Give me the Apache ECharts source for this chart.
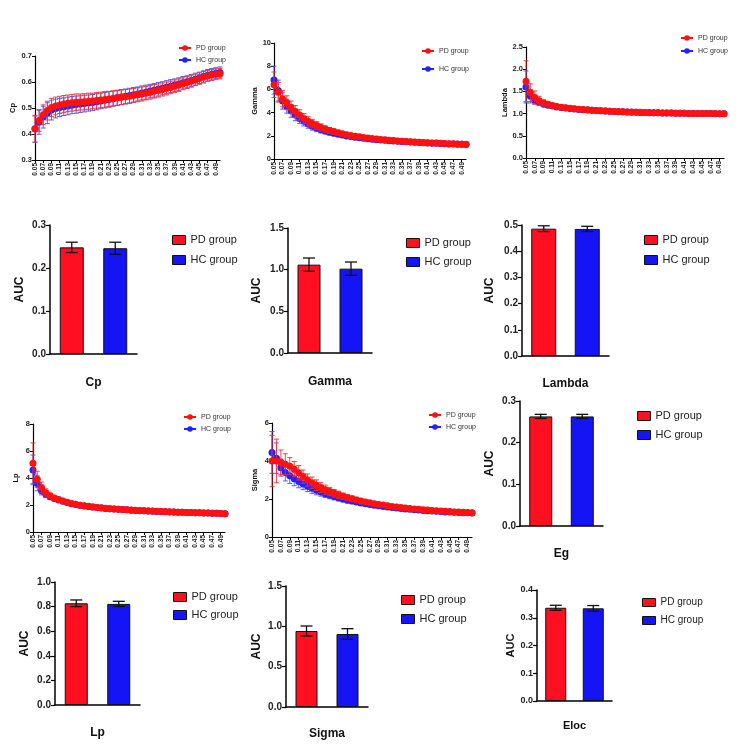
<!DOCTYPE html>
<html><head><meta charset="utf-8">
<script src="https://cdn.jsdelivr.net/npm/echarts@6/dist/echarts.min.js"></script>
<style>html,body{margin:0;padding:0;background:#fff}#c{width:753px;height:747px}</style>
</head><body><div id="c"></div>
<script>
// ---------- DATA ----------
const thresholds = ['0.05','0.06','0.07','0.08','0.09','0.10','0.11','0.12','0.13','0.14','0.15','0.16','0.17','0.18','0.19','0.20','0.21','0.22','0.23','0.24','0.25','0.26','0.27','0.28','0.29','0.30','0.31','0.32','0.33','0.34','0.35','0.36','0.37','0.38','0.39','0.40','0.41','0.42','0.43','0.44','0.45','0.46','0.47','0.48','0.49','0.50'];
const groups = ['PD group','HC group'];

const cpPD = [0.419,0.452,0.474,0.490,0.502,0.508,0.512,0.515,0.518,0.520,0.522,0.523,0.524,0.526,0.527,0.529,0.531,0.533,0.535,0.537,0.539,0.541,0.543,0.545,0.548,0.551,0.554,0.557,0.560,0.564,0.567,0.571,0.575,0.579,0.584,0.588,0.593,0.598,0.603,0.608,0.613,0.618,0.623,0.627,0.630,0.632];
const cpHC = [0.420,0.445,0.465,0.480,0.492,0.498,0.502,0.505,0.508,0.511,0.513,0.515,0.517,0.519,0.521,0.524,0.527,0.530,0.533,0.536,0.539,0.542,0.545,0.548,0.551,0.554,0.558,0.561,0.565,0.568,0.572,0.576,0.580,0.584,0.588,0.592,0.597,0.601,0.606,0.611,0.616,0.621,0.626,0.630,0.634,0.637];
const cpPDErr = [0.050,0.042,0.038,0.036,0.035,0.034,0.033,0.033,0.032,0.032,0.032,0.031,0.031,0.031,0.030,0.030,0.030,0.030,0.029,0.029,0.029,0.028,0.028,0.028,0.027,0.027,0.027,0.026,0.026,0.026,0.025,0.025,0.025,0.024,0.024,0.024,0.023,0.023,0.023,0.022,0.022,0.022,0.021,0.021,0.021,0.020];
const cpHCErr = [0.052,0.046,0.042,0.040,0.038,0.036,0.035,0.034,0.034,0.033,0.033,0.032,0.032,0.031,0.031,0.031,0.030,0.030,0.030,0.029,0.029,0.029,0.028,0.028,0.028,0.027,0.027,0.027,0.026,0.026,0.026,0.025,0.025,0.025,0.024,0.024,0.024,0.023,0.023,0.023,0.022,0.022,0.022,0.022,0.021,0.021];

const gammaPD = [6.40,5.75,5.20,4.85,4.45,4.10,3.80,3.50,3.25,3.05,2.88,2.72,2.58,2.46,2.36,2.26,2.18,2.10,2.03,1.97,1.91,1.86,1.81,1.77,1.73,1.69,1.66,1.62,1.59,1.56,1.54,1.51,1.49,1.47,1.45,1.43,1.41,1.39,1.37,1.35,1.34,1.32,1.31,1.29,1.28,1.27];
const gammaHC = [6.80,5.90,5.00,4.55,4.15,3.80,3.50,3.25,3.02,2.83,2.67,2.53,2.41,2.30,2.21,2.13,2.06,1.99,1.93,1.88,1.83,1.79,1.75,1.71,1.67,1.64,1.61,1.58,1.55,1.53,1.50,1.48,1.46,1.44,1.42,1.40,1.38,1.36,1.35,1.33,1.32,1.30,1.29,1.28,1.27,1.26];
const gammaPDErr = [1.10,0.85,0.70,0.60,0.55,0.50,0.45,0.42,0.40,0.37,0.34,0.31,0.28,0.26,0.24,0.22,0.20,0.18,0.17,0.16,0.15,0.14,0.13,0.12,0.11,0.10,0.10,0.09,0.09,0.08,0.08,0.07,0.07,0.07,0.06,0.06,0.06,0.05,0.05,0.05,0.05,0.04,0.04,0.04,0.04,0.04];
const gammaHCErr = [1.20,0.90,0.70,0.60,0.55,0.50,0.45,0.40,0.37,0.34,0.31,0.28,0.25,0.23,0.21,0.19,0.17,0.16,0.15,0.14,0.13,0.12,0.11,0.10,0.10,0.09,0.09,0.08,0.08,0.07,0.07,0.06,0.06,0.06,0.05,0.05,0.05,0.05,0.04,0.04,0.04,0.04,0.04,0.03,0.03,0.03];

const lambdaPD = [1.73,1.47,1.36,1.29,1.24,1.21,1.18,1.16,1.145,1.13,1.12,1.11,1.10,1.09,1.085,1.078,1.072,1.066,1.06,1.055,1.05,1.046,1.042,1.038,1.034,1.031,1.028,1.025,1.022,1.02,1.018,1.016,1.014,1.012,1.01,1.008,1.006,1.005,1.004,1.003,1.002,1.001,1.0,1.0,0.999,0.998];
const lambdaHC = [1.60,1.39,1.30,1.25,1.21,1.19,1.17,1.15,1.14,1.125,1.115,1.105,1.095,1.087,1.08,1.074,1.068,1.062,1.057,1.052,1.048,1.044,1.04,1.036,1.033,1.03,1.027,1.024,1.021,1.019,1.017,1.015,1.013,1.011,1.009,1.007,1.006,1.005,1.004,1.003,1.002,1.001,1.0,0.999,0.999,0.998];
const lambdaPDErr = [0.46,0.20,0.15,0.10,0.07,0.05,0.04,0.035,0.03,0.025,0.02,0.02,0.018,0.016,0.015,0.014,0.013,0.012,0.011,0.01,0.01,0.009,0.009,0.008,0.008,0.007,0.007,0.007,0.006,0.006,0.006,0.005,0.005,0.005,0.005,0.004,0.004,0.004,0.004,0.004,0.003,0.003,0.003,0.003,0.003,0.003];
const lambdaHCErr = [0.36,0.15,0.08,0.06,0.05,0.04,0.035,0.03,0.025,0.02,0.02,0.018,0.016,0.015,0.014,0.013,0.012,0.011,0.01,0.01,0.009,0.009,0.008,0.008,0.007,0.007,0.007,0.006,0.006,0.006,0.005,0.005,0.005,0.005,0.004,0.004,0.004,0.004,0.004,0.003,0.003,0.003,0.003,0.003,0.003,0.003];

const lpPD = [5.10,3.90,3.30,2.90,2.68,2.52,2.40,2.29,2.20,2.12,2.05,1.99,1.94,1.90,1.86,1.82,1.79,1.76,1.73,1.71,1.69,1.67,1.65,1.63,1.61,1.59,1.58,1.56,1.55,1.53,1.52,1.51,1.50,1.48,1.47,1.46,1.45,1.44,1.43,1.42,1.41,1.40,1.39,1.38,1.37,1.36];
const lpHC = [4.60,3.60,3.05,2.80,2.62,2.48,2.37,2.27,2.18,2.10,2.04,1.98,1.93,1.89,1.85,1.81,1.78,1.75,1.72,1.70,1.68,1.66,1.64,1.62,1.60,1.58,1.57,1.55,1.54,1.52,1.51,1.50,1.49,1.48,1.47,1.46,1.45,1.44,1.43,1.42,1.41,1.40,1.39,1.38,1.37,1.36];
const lpPDErr = [1.50,0.60,0.40,0.30,0.20,0.15,0.12,0.10,0.09,0.08,0.07,0.06,0.06,0.05,0.05,0.05,0.04,0.04,0.04,0.04,0.04,0.04,0.03,0.03,0.03,0.03,0.03,0.03,0.03,0.03,0.03,0.03,0.03,0.03,0.03,0.03,0.03,0.03,0.03,0.03,0.03,0.03,0.03,0.03,0.03,0.03];
const lpHCErr = [1.10,0.55,0.30,0.25,0.18,0.13,0.10,0.09,0.08,0.07,0.06,0.06,0.05,0.05,0.05,0.04,0.04,0.04,0.04,0.04,0.03,0.03,0.03,0.03,0.03,0.03,0.03,0.03,0.03,0.03,0.03,0.03,0.03,0.03,0.03,0.03,0.03,0.03,0.03,0.03,0.03,0.03,0.03,0.03,0.03,0.03];

const sigmaPD = [4.00,4.00,3.93,3.83,3.73,3.57,3.38,3.18,3.00,2.86,2.73,2.60,2.49,2.39,2.30,2.22,2.14,2.07,2.01,1.95,1.89,1.84,1.80,1.75,1.71,1.68,1.64,1.61,1.58,1.55,1.53,1.50,1.48,1.46,1.44,1.42,1.40,1.38,1.37,1.35,1.34,1.32,1.31,1.30,1.29,1.27];
const sigmaHC = [4.45,4.15,3.65,3.40,3.22,3.06,2.92,2.79,2.67,2.56,2.46,2.37,2.28,2.20,2.13,2.06,2.00,1.94,1.89,1.84,1.79,1.75,1.71,1.67,1.64,1.61,1.58,1.55,1.53,1.50,1.48,1.46,1.44,1.42,1.40,1.38,1.37,1.35,1.34,1.32,1.31,1.30,1.29,1.28,1.27,1.26];
const sigmaPDErr = [1.35,1.15,0.65,0.55,0.45,0.40,0.38,0.35,0.32,0.30,0.28,0.26,0.24,0.22,0.20,0.19,0.17,0.16,0.15,0.14,0.13,0.12,0.11,0.10,0.10,0.09,0.09,0.08,0.08,0.07,0.07,0.07,0.06,0.06,0.06,0.05,0.05,0.05,0.05,0.05,0.04,0.04,0.04,0.04,0.04,0.04];
const sigmaHCErr = [1.10,0.80,0.45,0.45,0.40,0.36,0.33,0.30,0.28,0.26,0.24,0.22,0.20,0.19,0.18,0.17,0.16,0.15,0.14,0.13,0.12,0.11,0.10,0.10,0.09,0.09,0.08,0.08,0.07,0.07,0.07,0.06,0.06,0.06,0.05,0.05,0.05,0.05,0.04,0.04,0.04,0.04,0.04,0.04,0.03,0.03];

// AUC bar values [PD, HC] and SEM [PD, HC]
const aucCp = [0.248, 0.246];      const aucCpErr = [0.012, 0.014];
const aucGamma = [1.06, 1.012];    const aucGammaErr = [0.08, 0.08];
const aucLambda = [0.486, 0.485];  const aucLambdaErr = [0.011, 0.010];
const aucEg = [0.263, 0.263];      const aucEgErr = [0.005, 0.005];
const aucLp = [0.827, 0.822];      const aucLpErr = [0.027, 0.021];
const aucSigma = [0.942, 0.905];   const aucSigmaErr = [0.062, 0.066];
const aucEloc = [0.336, 0.334];    const aucElocErr = [0.009, 0.010];

// ---------- LAYOUT ----------
const FONT = 'Liberation Sans, Arial, sans-serif';
const RED = '#ff1111', BLUE = '#2222ff';
const RED_E = '#f03030', BLUE_E = '#4a4aff';
const BAR_RED = '#ff0f1f', BAR_BLUE = '#1414f5';

const linePanels = [
  {name:'Cp', left:35, top:56, width:185, height:104, min:0.3, max:0.7, interval:0.1, dec:1, nameGap:18,
   pd:cpPD, hc:cpHC, pdE:cpPDErr, hcE:cpHCErr, lg:{left:173, top:39.5, gap:5}},
  {name:'Gamma', left:274, top:43, width:192, height:116, min:0, max:10, interval:2, dec:0, nameGap:15,
   pd:gammaPD, hc:gammaHC, pdE:gammaPDErr, hcE:gammaHCErr, lg:{left:416, top:42.5, gap:11}},
  {name:'Lambda', left:526, top:47, width:198, height:111, min:0, max:2.5, interval:0.5, dec:1, nameGap:17,
   pd:lambdaPD, hc:lambdaHC, pdE:lambdaPDErr, hcE:lambdaHCErr, lg:{left:675, top:29.5, gap:6}},
  {name:'Lp', left:33, top:424, width:192, height:108, min:0, max:8, interval:2, dec:0, nameGap:13,
   pd:lpPD, hc:lpHC, pdE:lpPDErr, hcE:lpHCErr, lg:{left:178, top:408.5, gap:5}},
  {name:'Sigma', left:272, top:423, width:200, height:114, min:0, max:6, interval:2, dec:0, nameGap:13,
   pd:sigmaPD, hc:sigmaHC, pdE:sigmaPDErr, hcE:sigmaHCErr, lg:{left:423, top:406.5, gap:5}}
];

const barPanels = [
  {name:'Cp', left:50, top:225, width:87, height:129, max:0.3, interval:0.1, bw:24, nameGap:23, yGap:24,
   v:aucCp, e:aucCpErr, lg:{left:167, top:229.5, gap:9, fs:11, ih:9}},
  {name:'Gamma', left:288, top:228, width:84, height:125, max:1.5, interval:0.5, bw:23, nameGap:23, yGap:25,
   v:aucGamma, e:aucGammaErr, lg:{left:401, top:232.5, gap:8, fs:11, ih:9}},
  {name:'Lambda', left:522, top:225, width:87, height:131, max:0.5, interval:0.1, bw:25, nameGap:22, yGap:26,
   v:aucLambda, e:aucLambdaErr, lg:{left:639, top:229.5, gap:9, fs:11, ih:9}},
  {name:'Eg', left:520, top:401, width:83, height:125, max:0.3, interval:0.1, bw:23, nameGap:22, yGap:24,
   v:aucEg, e:aucEgErr, lg:{left:632, top:405.5, gap:8, fs:11, ih:9}},
  {name:'Lp', left:55, top:582, width:85, height:123, max:1.0, interval:0.2, bw:23, nameGap:22, yGap:24,
   v:aucLp, e:aucLpErr, lg:{left:168, top:586.5, gap:7, fs:11, ih:9}},
  {name:'Sigma', left:286, top:586, width:82, height:121, max:1.5, interval:0.5, bw:22, nameGap:21, yGap:23,
   v:aucSigma, e:aucSigmaErr, lg:{left:396, top:589.5, gap:8, fs:11, ih:9}},
  {name:'Eloc', left:537, top:590, width:75, height:111, max:0.4, interval:0.1, bw:21, nameGap:19, yGap:21,
   v:aucEloc, e:aucElocErr, lg:{left:637, top:592.5, gap:8, fs:10, ih:8}}
];

// ---------- BUILD ----------
const grid = [], xAxis = [], yAxis = [], series = [], legend = [], lateSeries = [];

function errBar(idx, data, color, cap, lw, z) {
  return {
    type:'custom', xAxisIndex:idx, yAxisIndex:idx, z:z, silent:true, clip:false,
    encode:{x:0, y:1}, data:data,
    renderItem:function(params, api){
      const x = api.value(0), y = api.value(1), e = api.value(2);
      const t = api.coord([x, y + e]), b = api.coord([x, y - e]);
      const st = {stroke:color, lineWidth:lw};
      return {type:'group', children:[
        {type:'line', shape:{x1:t[0], y1:t[1], x2:b[0], y2:b[1]}, style:st},
        {type:'line', shape:{x1:t[0]-cap, y1:t[1], x2:t[0]+cap, y2:t[1]}, style:st},
        {type:'line', shape:{x1:b[0]-cap, y1:b[1], x2:b[0]+cap, y2:b[1]}, style:st}
      ]};
    }
  };
}

linePanels.forEach(function(p){
  const i = grid.length;
  grid.push({left:p.left, top:p.top, width:p.width, height:p.height, containLabel:false});
  xAxis.push({type:'category', gridIndex:i, data:thresholds, boundaryGap:false,
    axisLine:{lineStyle:{color:'#000', width:1.2}},
    axisTick:{interval:1, length:3, lineStyle:{color:'#000', width:1}},
    axisLabel:{interval:1, rotate:90, fontSize:6.5, fontWeight:'bold', color:'#222', margin:3, fontFamily:FONT},
    splitLine:{show:false}});
  yAxis.push({type:'value', gridIndex:i, min:p.min, max:p.max, interval:p.interval,
    name:p.name, nameLocation:'middle', nameRotate:90, nameGap:p.nameGap,
    nameTextStyle:{fontSize:7.5, fontWeight:'bold', color:'#111', fontFamily:FONT},
    axisLine:{show:true, lineStyle:{color:'#000', width:1.2}},
    axisTick:{show:true, length:3, lineStyle:{color:'#000', width:1}},
    axisLabel:{fontSize:7.5, fontWeight:'bold', color:'#222', margin:3, fontFamily:FONT,
      formatter:function(v){return (+v).toFixed(p.dec);}},
    splitLine:{show:false}});
  const hcE = p.hc.map(function(v,k){return [k, v, p.hcE[k]];});
  const pdE = p.pd.map(function(v,k){return [k, v, p.pdE[k]];});
  series.push(errBar(i, hcE, BLUE_E, 2.5, 0.9, 2));
  series.push({type:'line', name:groups[1], xAxisIndex:i, yAxisIndex:i, data:p.hc, z:3,
    symbol:'circle', symbolSize:7, showSymbol:true, showAllSymbol:true,
    itemStyle:{color:BLUE}, lineStyle:{color:BLUE, width:1}});
  series.push(errBar(i, pdE, RED_E, 2.5, 0.9, 4));
  series.push({type:'line', name:groups[0], xAxisIndex:i, yAxisIndex:i, data:p.pd, z:5,
    symbol:'circle', symbolSize:7, showSymbol:true, showAllSymbol:true,
    itemStyle:{color:RED}, lineStyle:{color:RED, width:1}});
  legend.push({left:p.lg.left, top:p.lg.top, orient:'vertical', itemGap:p.lg.gap, itemWidth:12, itemHeight:7,
    selectedMode:false, textStyle:{fontSize:7, color:'#333', fontFamily:FONT},
    data:[{name:groups[0]}, {name:groups[1]}]});
});

barPanels.forEach(function(p, j){
  const i = grid.length;
  grid.push({left:p.left, top:p.top, width:p.width, height:p.height, containLabel:false});
  xAxis.push({type:'category', gridIndex:i, data:groups,
    name:p.name, nameLocation:'middle', nameGap:p.nameGap,
    nameTextStyle:{fontSize:p.name==='Eloc'?11:12, fontWeight:'bold', color:'#111', fontFamily:FONT},
    axisLine:{lineStyle:{color:'#000', width:1.5}},
    axisTick:{alignWithLabel:true, length:5, lineStyle:{color:'#000', width:1.2}},
    axisLabel:{show:false}, splitLine:{show:false}});
  yAxis.push({type:'value', gridIndex:i, min:0, max:p.max, interval:p.interval,
    name:'AUC', nameLocation:'middle', nameRotate:90, nameGap:p.yGap,
    nameTextStyle:{fontSize:p.name==='Eloc'?11:12, fontWeight:'bold', color:'#111', fontFamily:FONT},
    axisLine:{show:true, lineStyle:{color:'#000', width:1.5}},
    axisTick:{show:true, length:4, lineStyle:{color:'#000', width:1.2}},
    axisLabel:{fontSize:p.name==='Eloc'?9:10, fontWeight:'bold', color:'#222', margin:4, fontFamily:FONT,
      formatter:function(v){return (+v).toFixed(1);}},
    splitLine:{show:false}});
  const stack = 'auc' + j;
  lateSeries.push({type:'bar', name:groups[0], xAxisIndex:i, yAxisIndex:i, stack:stack, barWidth:p.bw,
    data:[p.v[0], '-'], itemStyle:{color:BAR_RED, borderColor:'#111', borderWidth:1}, z:2});
  lateSeries.push({type:'bar', name:groups[1], xAxisIndex:i, yAxisIndex:i, stack:stack, barWidth:p.bw,
    data:['-', p.v[1]], itemStyle:{color:BAR_BLUE, borderColor:'#111', borderWidth:1}, z:2});
  lateSeries.push(errBar(i, [[0, p.v[0], p.e[0]], [1, p.v[1], p.e[1]]], '#111', 6, 1.3, 6));
  legend.push({left:p.lg.left, top:p.lg.top, orient:'vertical', itemGap:p.lg.gap, itemWidth:13, itemHeight:p.lg.ih,
    selectedMode:false, textStyle:{fontSize:p.lg.fs, color:'#222', fontFamily:FONT},
    data:[{name:groups[0], icon:'rect', itemStyle:{color:BAR_RED, borderColor:'#111', borderWidth:1}},
          {name:groups[1], icon:'rect', itemStyle:{color:BAR_BLUE, borderColor:'#111', borderWidth:1}}]});
});

const chart = echarts.init(document.getElementById('c'), null, {renderer:'canvas'});
chart.setOption({
  backgroundColor:'#ffffff',
  animation:false,
  textStyle:{fontFamily:FONT},
  grid:grid, xAxis:xAxis, yAxis:yAxis, legend:legend,
  series:series.concat(lateSeries)
});
</script></body></html>
